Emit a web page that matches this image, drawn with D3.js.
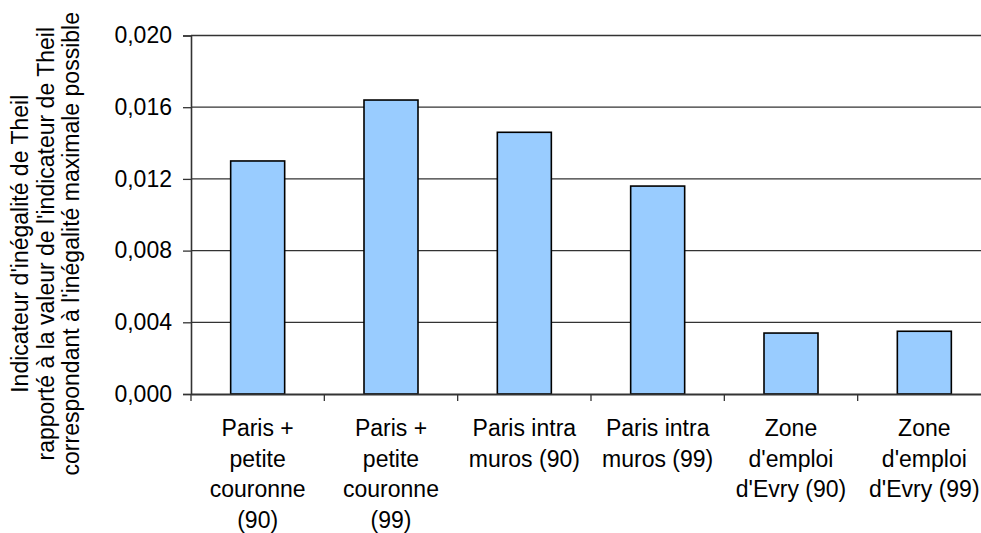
<!DOCTYPE html>
<html>
<head>
<meta charset="utf-8">
<script src="https://cdn.jsdelivr.net/npm/d3@7"></script>
<style>
  body { margin: 0; background: #fff; }
  text { font-family: "Liberation Sans", Arial, sans-serif; fill: #000; }
</style>
</head>
<body>
<svg id="chart"></svg>
<script>
const categories = [
    "Paris +\npetite\ncouronne\n(90)",
    "Paris +\npetite\ncouronne\n(99)",
    "Paris intra\nmuros (90)",
    "Paris intra\nmuros (99)",
    "Zone\nd'emploi\nd'Evry (90)",
    "Zone\nd'emploi\nd'Evry (99)"
];
const values = [0.0130, 0.0164, 0.0146, 0.0116, 0.0034, 0.0035];
const yTicks = [0, 0.004, 0.008, 0.012, 0.016, 0.020];
const yTitle = [
    "Indicateur d'inégalité de Theil",
    "rapporté à la valeur de l'indicateur de Theil",
    "correspondant à l'inégalité maximale possible"
];

const width = 981, height = 533;
const margin = { left: 191, top: 35.5, right: -10, bottom: 139 };
const fontSize = "23px";

const svg = d3.select("#chart")
    .attr("width", width)
    .attr("height", height);

const x = d3.scaleBand()
    .domain(categories)
    .range([margin.left, width - margin.right])
    .padding(0);

const y = d3.scaleLinear()
    .domain([0, 0.020])
    .range([height - margin.bottom, margin.top]);

const fr = d3.formatLocale({ decimal: ",", thousands: " ", grouping: [3], currency: ["", "€"] });
const fmt = fr.format(".3f");

// gridlines
svg.append("g")
    .selectAll("line")
    .data(yTicks.filter(d => d > 0))
    .enter().append("line")
    .attr("x1", margin.left)
    .attr("x2", width - margin.right)
    .attr("y1", d => y(d))
    .attr("y2", d => y(d))
    .attr("stroke", "#333")
    .attr("stroke-width", 1.3);

// bars
const barW = x.bandwidth() * 0.405;
svg.append("g")
    .selectAll("rect")
    .data(values)
    .enter().append("rect")
    .attr("x", (d, i) => x(categories[i]) + (x.bandwidth() - barW) / 2)
    .attr("y", d => y(d))
    .attr("width", barW)
    .attr("height", d => y(0) - y(d))
    .attr("fill", "#99ccff")
    .attr("stroke", "#000")
    .attr("stroke-width", 1.6);

// y axis
const yAxis = svg.append("g")
    .attr("transform", `translate(${margin.left},0)`)
    .call(d3.axisLeft(y).tickValues(yTicks).tickFormat(fmt).tickSize(8).tickPadding(11));
yAxis.select(".domain").attr("stroke", "#333").attr("stroke-width", 1.6);
yAxis.selectAll(".tick line").attr("stroke", "#333").attr("stroke-width", 1.3);
yAxis.selectAll(".tick text")
    .style("font-family", "'Liberation Sans', Arial, sans-serif")
    .style("font-size", fontSize)
    .attr("fill", "#000");

// x axis
const xAxis = svg.append("g")
    .attr("transform", `translate(0,${y(0)})`)
    .call(d3.axisBottom(x).tickSize(0).tickFormat(""));
xAxis.select(".domain").attr("stroke", "#333").attr("stroke-width", 1.8);

// category separator ticks
svg.append("g")
    .selectAll("line")
    .data(categories)
    .enter().append("line")
    .attr("x1", d => x(d))
    .attr("x2", d => x(d))
    .attr("y1", y(0))
    .attr("y2", y(0) + 7)
    .attr("stroke", "#333")
    .attr("stroke-width", 1.3);

// category labels
const lab = svg.append("g")
    .selectAll("text")
    .data(categories)
    .enter().append("text")
    .attr("x", d => x(d) + x.bandwidth() / 2)
    .attr("y", y(0) + 42)
    .attr("text-anchor", "middle")
    .style("font-size", fontSize);

lab.selectAll("tspan")
    .data(d => d.split("\n"))
    .enter().append("tspan")
    .attr("x", function() { return d3.select(this.parentNode).attr("x"); })
    .attr("dy", (d, i) => i === 0 ? 0 : 30.5)
    .text(d => d);

// y title
const yt = svg.append("text")
    .attr("transform", `translate(28,${(y(0) + y(0.02)) / 2 + 29}) rotate(-90)`)
    .attr("text-anchor", "middle")
    .style("font-size", fontSize);

yt.selectAll("tspan")
    .data(yTitle)
    .enter().append("tspan")
    .attr("x", 0)
    .attr("dy", (d, i) => i === 0 ? 0 : 25.5)
    .text(d => d);
</script>
</body>
</html>
